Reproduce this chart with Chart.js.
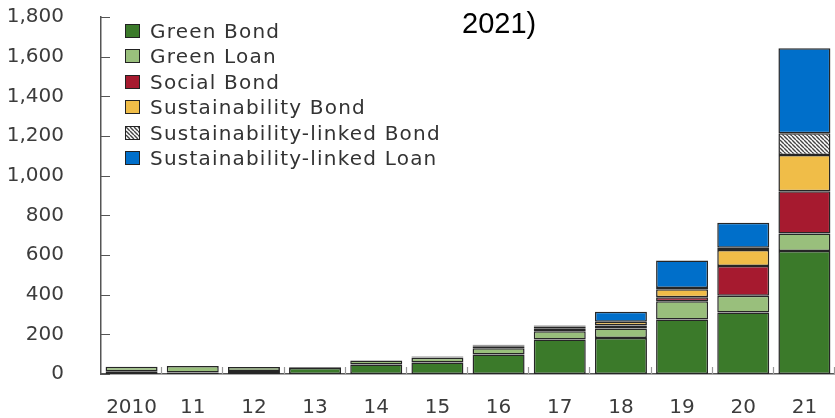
<!DOCTYPE html>
<html>
<head>
<meta charset="utf-8">
<script src="https://cdn.jsdelivr.net/npm/chart.js@4"></script>
<style>
  body { margin: 0; background: #fff; }
  #wrap { position: relative; width: 835px; height: 418px; }
  #title { position: absolute; left: 462px; top: 8px; font: 29px "Liberation Sans", Arial, sans-serif; line-height: 30px; color: #000; }
  #legend { position: absolute; left: 125px; top: 18px; font: 20px "DejaVu Sans", sans-serif; letter-spacing: 1.2px; color: #333; }
  .row { height: 25.5px; display: flex; align-items: center; }
  .sw { width: 13px; height: 12px; border: 1px solid #222; margin-right: 10px; box-sizing: content-box; }
</style>
</head>
<body>
<div id="wrap">
  <canvas id="barChart" width="835" height="418"></canvas>
  <div id="title">2021)</div>
  <div id="legend"></div>
</div>
<script>
const years = ['2010', '11', '12', '13', '14', '15', '16', '17', '18', '19', '20', '21'];
const seriesNames = ['Green Bond', 'Green Loan', 'Social Bond', 'Sustainability Bond', 'Sustainability-linked Bond', 'Sustainability-linked Loan'];
const greenBond = [14, 8, 15, 30, 48, 58, 98, 174, 182, 275, 310, 620];
const greenLoan = [22, 32, 20, 4, 20, 24, 32, 42, 48, 92, 85, 88];
const socialBond = [0, 0, 0, 0, 0, 3, 8, 12, 14, 20, 150, 214];
const sustBond = [0, 0, 0, 0, 0, 3, 6, 12, 20, 40, 80, 182];
const sustLinkedBond = [0, 0, 0, 0, 0, 0, 0, 0, 0, 7, 12, 110];
const sustLinkedLoan = [0, 0, 0, 0, 0, 0, 3, 5, 50, 138, 125, 429];
const yTicks = [0, 200, 400, 600, 800, 1000, 1200, 1400, 1600, 1800];

// hatch for sustainability-linked bond
function hatch() {
    const c = document.createElement('canvas');
    c.width = 4; c.height = 4;
    const g = c.getContext('2d');
    g.fillStyle = '#fff';
    g.fillRect(0, 0, 4, 4);
    g.strokeStyle = '#444';
    g.lineWidth = 1.4;
    g.beginPath();
    for (let i = -4; i <= 4; i += 4) {
        g.moveTo(i, 0);
        g.lineTo(i + 4, 4);
    }
    g.stroke();
    return c;
}
const hatchCanvas = hatch();
const ctx = document.getElementById('barChart').getContext('2d');
const hatchPattern = ctx.createPattern(hatchCanvas, 'repeat');

const colors = ['#3b7a2a', '#99bf7c', '#a61a2f', '#f0bd48', hatchPattern, '#006fca'];
const values = [greenBond, greenLoan, socialBond, sustBond, sustLinkedBond, sustLinkedLoan];

// legend
const legend = document.getElementById('legend');
seriesNames.forEach((name, i) => {
    const row = document.createElement('div');
    row.className = 'row';
    const sw = document.createElement('div');
    sw.className = 'sw';
    if (i === 4) sw.style.backgroundImage = 'url(' + hatchCanvas.toDataURL() + ')';
    else sw.style.background = colors[i];
    row.appendChild(sw);
    row.appendChild(document.createTextNode(name));
    legend.appendChild(row);
});

// small inward tick marks
const innerTicks = {
    id: 'innerTicks',
    afterDraw(chart) {
        const c = chart.ctx;
        const y = chart.scales.y, x = chart.scales.x;
        c.save();
        c.strokeStyle = '#555';
        c.lineWidth = 1.2;
        c.beginPath();
        yTicks.forEach(v => {
            const py = Math.round(y.getPixelForValue(v)) + 0.5;
            c.moveTo(x.left, py);
            c.lineTo(x.left + 9, py);
        });
        c.stroke();
        c.strokeStyle = '#999';
        c.beginPath();
        const step = x.getPixelForValue(1) - x.getPixelForValue(0);
        for (let i = 0; i < years.length; i++) {
            const px = Math.round(x.getPixelForValue(i) + step / 2) - 0.5;
            c.moveTo(px, y.bottom);
            c.lineTo(px, y.bottom - 7);
        }
        c.stroke();
        c.restore();
    }
};

new Chart(ctx, {
    type: 'bar',
    data: {
        labels: years,
        datasets: seriesNames.map((name, i) => ({
            label: name,
            data: values[i],
            backgroundColor: colors[i],
            borderColor: '#262626',
            borderWidth: 1.5,
            borderSkipped: false,
            barPercentage: 0.85,
            categoryPercentage: 1
        }))
    },
    options: {
        responsive: false,
        animation: false,
        layout: { padding: { top: 17, left: 0, right: 0, bottom: 0 } },
        plugins: {
            legend: { display: false },
            tooltip: { enabled: false }
        },
        scales: {
            x: {
                stacked: true,
                grid: { display: false },
                border: { color: '#555', width: 1.5 },
                ticks: { color: '#3c3c3c', font: { family: 'DejaVu Sans', size: 20 }, padding: 14 },
                afterFit: s => { s.height = 44; s.paddingLeft = 0; s.paddingRight = 0; }
            },
            y: {
                stacked: true,
                min: 0,
                max: 1800,
                grid: { display: false },
                border: { color: '#555', width: 1.5 },
                afterBuildTicks: s => { s.ticks = yTicks.map(v => ({ value: v })); },
                ticks: {
                    color: '#3c3c3c',
                    font: { family: 'DejaVu Sans', size: 20 },
                    padding: 29,
                    callback: v => v.toLocaleString('en-US')
                },
                afterFit: s => { s.width = 101; s.paddingTop = 0; s.paddingBottom = 0; }
            }
        }
    },
    plugins: [innerTicks]
});
</script>
</body>
</html>
